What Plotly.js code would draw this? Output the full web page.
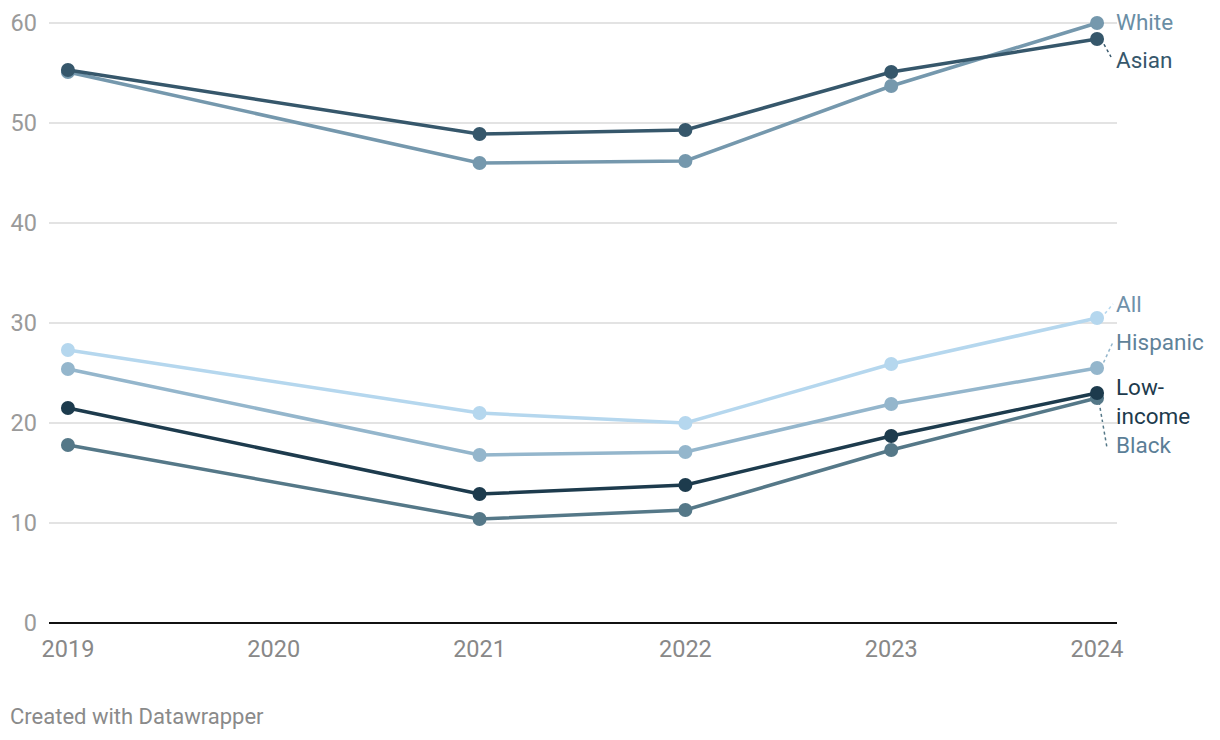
<!DOCTYPE html>
<html>
<head>
<meta charset="utf-8">
<script src="https://cdn.plot.ly/plotly-3.0.1.min.js"></script>
<style>
  html, body { margin: 0; padding: 0; background: #fff; }
  #chart { width: 1220px; height: 740px; }
</style>
</head>
<body>
<div id="chart"></div>
<script>
const years = [2019, 2021, 2022, 2023, 2024];
const white = [55.1, 46.0, 46.2, 53.7, 60.0];
const asian = [55.3, 48.9, 49.3, 55.1, 58.4];
const all = [27.3, 21.0, 20.0, 25.9, 30.5];
const hispanic = [25.4, 16.8, 17.1, 21.9, 25.5];
const black = [17.8, 10.4, 11.3, 17.3, 22.5];
const lowIncome = [21.5, 12.9, 13.8, 18.7, 23.0];
const xTicks = [2019, 2020, 2021, 2022, 2023, 2024];
const yTicks = [0, 10, 20, 30, 40, 50, 60];

const series = [
  {name: 'White', y: white, color: '#7598ad', label: '#6a8ea5', label_text: 'White', dy: 1, conn: null},
  {name: 'Asian', y: asian, color: '#36576b', label: '#36576b', label_text: 'Asian', dy: -21, conn: [4, 0, 14, -18]},
  {name: 'All', y: all, color: '#b5d7ee', label: '#6f91aa', label_text: 'All', dy: 14, conn: [4, 0, 16, 14]},
  {name: 'Hispanic', y: hispanic, color: '#94b6cc', label: '#5f8299', label_text: 'Hispanic', dy: 26, conn: [4, 0, 16, 26]},
  {name: 'Black', y: black, color: '#557888', label: '#5b7e97', label_text: 'Black', dy: -47, conn: [2, -4, 10, -50]},
  {name: 'Low-income', y: lowIncome, color: '#1d3b4d', label: '#1d3b4d', label_text: 'Low-<br>income', dy: -8, conn: null}
];

const traces = series.map(s => ({
  type: 'scatter', mode: 'lines+markers', x: years, y: s.y, name: s.name,
  line: {color: s.color, width: 3.5},
  marker: {color: s.color, size: 14},
  cliponaxis: false,
  hoverinfo: 'skip'
}));

const annotations = series.map(s => ({
  xref: 'x', yref: 'y', x: years[years.length - 1], y: s.y[s.y.length - 1],
  xanchor: 'left', yanchor: 'middle', xshift: 17, yshift: s.dy,
  text: s.label_text, showarrow: false, align: 'left',
  font: {family: 'Roboto', size: 22.5, color: s.label}
}));
annotations.push({
  xref: 'paper', yref: 'paper', x: 0, y: 0, xanchor: 'left', yanchor: 'middle',
  xshift: -41, yshift: -93,
  text: 'Created with Datawrapper', showarrow: false,
  font: {family: 'Roboto', size: 22, color: '#8a8a8a'}
});

const shapes = [];
series.forEach(s => {
  if (!s.conn) return;
  shapes.push({
    type: 'line', xref: 'x', yref: 'y', xsizemode: 'pixel', ysizemode: 'pixel',
    xanchor: years[years.length - 1], yanchor: s.y[s.y.length - 1],
    x0: s.conn[0], y0: s.conn[1], x1: s.conn[2], y1: s.conn[3],
    line: {color: s.color, width: 1.5, dash: 'dot'}, layer: 'below'
  });
});

const layout = {
  width: 1220, height: 740,
  margin: {l: 49, r: 103, t: 20, b: 117},
  paper_bgcolor: '#ffffff', plot_bgcolor: '#ffffff',
  showlegend: false,
  font: {family: 'Roboto', color: '#888'},
  xaxis: {
    range: [2018.908, 2024.097], tickvals: xTicks, ticktext: xTicks.map(String),
    showgrid: false, zeroline: false, showline: false, ticks: '',
    tickfont: {family: 'Roboto', size: 23.5, color: '#888'}, ticklabelstandoff: 9
  },
  yaxis: {
    range: [0, 60.3], tickvals: yTicks, ticktext: yTicks.map(String),
    showgrid: true, gridcolor: '#e3e3e3', gridwidth: 1.3,
    zeroline: true, zerolinecolor: '#111', zerolinewidth: 2,
    showline: false, ticks: '',
    tickfont: {family: 'Roboto', size: 23.5, color: '#9a9a9a'}, ticklabelstandoff: 11
  },
  annotations: annotations,
  shapes: shapes
};

Plotly.newPlot('chart', traces, layout, {displayModeBar: false, staticPlot: true});
</script>
</body>
</html>
